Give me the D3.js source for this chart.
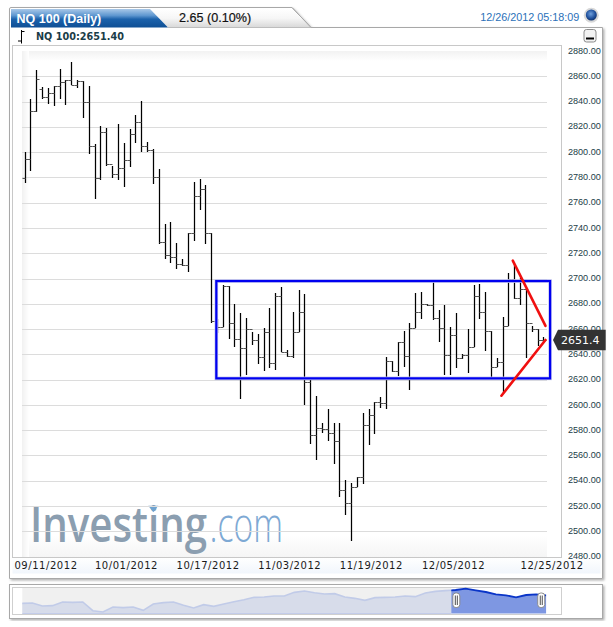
<!DOCTYPE html>
<html>
<head>
<meta charset="utf-8">
<script src="https://cdn.jsdelivr.net/npm/d3@7"></script>
<style>
html,body{margin:0;padding:0;background:#fff}
svg{display:block}
text{font-family:"Liberation Sans",Arial,sans-serif}
</style>
</head>
<body>
<svg id="c" width="613" height="627"></svg>
<script>
const opens=[2779.3,2794.3,2832.5,2850,2843.4,2846.4,2852.3,2855.3,2857.1,2853.1,2856.3,2839.7,2805.1,2779.8,2815.7,2790.6,2783,2787.7,2793.8,2814.1,2823.6,2804.9,2801.7,2780.6,2728.7,2718.6,2717.3,2711.7,2710.5,2736.3,2765.3,2770.6,2735.8,2666,2661.7,2694.4,2665.1,2652.4,2645.3,2659.8,2651.2,2638.2,2657.5,2633,2686.2,2641.9,2639,2657.5,2673.5,2617.8,2576.5,2581.8,2580.8,2578,2571.3,2532.7,2522.7,2535.3,2543,2583.9,2591.8,2602.1,2601.5,2635,2626.9,2649.6,2638.7,2660.5,2673.3,2679.6,2679.3,2669,2660.6,2639.5,2655.3,2636.8,2639.5,2646.1,2686.2,2673.3,2658.5,2630.3,2634.2,2662.7,2699.9,2684.4,2691.5,2665.1,2660.1,2651.4];
const highs=[2799.9,2841.8,2865,2851.3,2850.5,2852.3,2866,2857.1,2871.3,2856.8,2856.3,2852.3,2806.4,2820.7,2818.9,2789.3,2822,2807,2818.1,2829.1,2840.5,2807.8,2802.2,2786.4,2743.2,2745,2727.9,2715.5,2736.3,2776.4,2778.8,2774,2736.4,2667.8,2694.9,2694.1,2679.9,2673,2669,2658,2656.4,2660.6,2676.5,2688.3,2693.6,2643.5,2673.3,2691,2687.5,2622.4,2607.1,2585.5,2597.1,2585.5,2585.5,2540.4,2538.5,2543,2593.9,2596.6,2602.1,2606.1,2638.2,2634.8,2650,2658.1,2665.2,2688.3,2689.1,2679.9,2697.5,2675.1,2679.1,2661.7,2672.5,2640.3,2660.1,2694.9,2695.4,2689.6,2658.5,2636.9,2669.3,2704.2,2711.5,2700.4,2691.7,2662.5,2660.1,2653.5];
const lows=[2775.8,2785.3,2832,2842.3,2838.1,2836.5,2842.3,2837,2853.1,2851,2826.8,2798.5,2762.7,2778,2789.3,2779.8,2778,2772.7,2788,2807.5,2799.9,2799.9,2774.6,2727.1,2715.2,2712.1,2707.8,2709.9,2705.2,2730,2754,2727.3,2664.8,2657.2,2661.7,2652.2,2646.1,2604.5,2623.7,2647.7,2632.4,2626.9,2629.5,2627.6,2641.9,2638.2,2636.9,2657.5,2599.6,2569.1,2556.4,2577.6,2571.7,2553.1,2527,2513.2,2492.1,2535.3,2537.7,2568.1,2577.3,2597.8,2596.8,2626.3,2623.1,2630,2611.8,2660.6,2667.8,2678.5,2667.2,2650,2623.3,2623.3,2629.2,2636.1,2625.5,2646.1,2667.8,2642.7,2620.5,2630.3,2609.2,2662.7,2683.8,2679.1,2636.9,2657.7,2646.6,2650];
const closes=[2794.3,2832.5,2857.6,2843.4,2846.4,2852.3,2855.3,2857.1,2853.1,2856.3,2839.7,2805.1,2779.8,2815.7,2790.6,2783,2787.7,2793.8,2814.1,2823.6,2804.9,2801.7,2780.6,2728.7,2718.6,2717.3,2711.7,2710.5,2736.3,2765.3,2770.6,2735.8,2666,2661.7,2694.4,2665.1,2652.4,2645.3,2659.8,2651.2,2638.2,2657.5,2633,2686.2,2641.9,2639,2657.5,2673.5,2617.8,2576.5,2581.8,2580.8,2578,2571.3,2532.7,2522.7,2535.3,2543,2583.9,2591.8,2602.1,2601.5,2635,2626.9,2649.6,2638.7,2660.5,2673.3,2679.6,2679.3,2669,2660.6,2639.5,2655.3,2636.8,2639.5,2646.1,2686.2,2673.3,2658.5,2630.3,2634.2,2662.7,2699.9,2684.4,2691.5,2665.1,2660.1,2651.4,2651.4];
const yTicks=[2880,2860,2840,2820,2800,2780,2760,2740,2720,2700,2680,2660,2640,2620,2600,2580,2560,2540,2520,2500,2480];
const xTickBars=[3.5,17.3,31.3,45.3,59.3,73.4,90.3];
const xTickLabels=["09/11/2012","10/01/2012","10/17/2012","11/03/2012","11/19/2012","12/05/2012","12/25/2012"];
const overview=[2358.7,2370.4,2265.4,2277,2405.4,2393.7,2405.4,2102,2055.4,2230.4,2207,2230.4,2113.7,2335.4,2382,2405.4,2288.7,2195.4,2312,2253.7,2335.4,2417,2487,2568.7,2580.4,2615.4,2615.4,2743.7,2790.4,2732,2685.4,2697,2580.4,2533.7,2463.7,2557,2568.7,2580.4,2615.4,2592,2720.4,2778.7,2802,2825.4,2872,2813.7,2755.4,2673.7,2638.7,2568.7,2650,2673.7,2638.7];
const lastPrice=2651.4;

const svg=d3.select("#c");
const defs=svg.append("defs");
function grad(id,stops,horizontal){
  const g=defs.append("linearGradient").attr("id",id).attr("x1",0).attr("y1",0)
    .attr("x2",horizontal?1:0).attr("y2",horizontal?0:1);
  stops.forEach(s=>g.append("stop").attr("offset",s[0]).attr("stop-color",s[1]));
}
grad("tabBlue",[[0,"#a8c8e8"],[0.35,"#5f97d0"],[0.55,"#1c62ab"],[1,"#0f4f95"]]);
grad("tabGrey",[[0,"#ffffff"],[0.5,"#f6f6f6"],[1,"#d8d8d8"]]);
grad("fadeL",[[0,"#f1f1f1"],[1,"#ffffff"]],true);
grad("fadeT",[[0,"#f2f2f2"],[1,"#ffffff"]]);
grad("fadeB",[[0,"#ffffff"],[1,"#f5f5f5"]]);
grad("strip",[[0,"#ffffff"],[1,"#f1f6fc"]]);
const ball=defs.append("radialGradient").attr("id","ball").attr("cx",0.45).attr("cy",0.4).attr("r",0.6);
ball.append("stop").attr("offset",0).attr("stop-color","#6f9fdc");
ball.append("stop").attr("offset",0.7).attr("stop-color","#1f4f9a");
ball.append("stop").attr("offset",1).attr("stop-color","#12336b");
defs.append("filter").attr("id","shadow").attr("x","-5%").attr("y","-5%").attr("width","110%").attr("height","110%")
  .append("feDropShadow").attr("dx",1.5).attr("dy",1.5).attr("stdDeviation",1.2).attr("flood-color","#000").attr("flood-opacity",0.3);

const x=d3.scaleLinear().domain([0,89]).range([25.1,543.97]);
const y=d3.scaleLinear().domain([2860,2500]).range([76.3,531.3]);
const px=i=>Math.floor(x(i))+0.5;
const py=v=>Math.round(y(v))+0.5;

// panels
svg.append("path").attr("d","M9.5,578.5V9a1.5,1.5 0 0 1 1.5,-1.5H292L311,27.5H602.5V578.5Z")
  .attr("fill","#fff").attr("stroke","#a8a8a8").attr("filter","url(#shadow)");
svg.append("path").attr("d","M168,27.5L150,9H292L310.5,27.5Z").attr("fill","url(#tabGrey)");
svg.append("path").attr("d","M11,9H150L168,27.5H11Z").attr("fill","url(#tabBlue)");
svg.append("line").attr("x1",168).attr("x2",311).attr("y1",27.5).attr("y2",27.5).attr("stroke","#bdbdbd");
svg.append("path").attr("d","M292,7.5L311,27.5").attr("stroke","#a8a8a8").attr("fill","none");

svg.append("rect").attr("x",12.5).attr("y",557.5).attr("width",588).attr("height",16).attr("fill","url(#strip)");
svg.append("rect").attr("x",12.5).attr("y",45.5).attr("width",549).attr("height",512).attr("fill","#fff").attr("stroke","#c8c8c8");
svg.append("rect").attr("x",22).attr("y",51).attr("width",525).attr("height",10).attr("fill","url(#fadeT)");
svg.append("rect").attr("x",22).attr("y",535).attr("width",525).attr("height",22).attr("fill","url(#fadeB)");
svg.append("rect").attr("x",22).attr("y",51).attr("width",7).attr("height",506).attr("fill","url(#fadeL)");

// watermark: each word is squeezed to its measured width by a transform
const logo=svg.append("g");
function logoWord(txt,left,width,weight,colour){
  const t=logo.append("text").style("font-family","'Open Sans'").style("font-weight",weight).style("font-size","48px").attr("fill",colour).text(txt);
  const natural=t.node().getComputedTextLength();
  t.attr("transform",`translate(${left},541.7) scale(${width/natural},1)`);
}
logoWord("Investing",30,177,600,"#8b9eb0");
logoWord(".com",209.5,73.5,300,"#7ea9d4");
logo.append("path").attr("d","M148.3,505.7H158.3L153.3,512.3Z").attr("fill","#6fa3d0");

// grid through the library's axis
const grid=svg.append("g").attr("transform","translate(22,0)")
  .call(d3.axisRight(y).tickValues(yTicks.slice(1,-1)).tickSize(525).tickFormat(""));
grid.select(".domain").remove();
grid.selectAll("line").attr("stroke","#dcdcdc").attr("y1",0).attr("y2",0).attr("transform",d=>`translate(0,${Math.round(y(d))+0.5-y(d)-0.5})`);

// y axis labels
const ya=svg.append("g").attr("transform","translate(600.8,0)")
  .call(d3.axisLeft(y).tickValues(yTicks).tickSize(0).tickPadding(0).tickFormat(d3.format(".2f")));
ya.select(".domain").remove();
ya.selectAll("text").style("font-family","'Liberation Sans'").style("font-size","9.1px").attr("fill","#1b3d48").attr("dy","0.3em")
  .attr("transform","translate(0,-0.6)");

// x axis labels
const xa=svg.append("g").attr("transform","translate(0,561.5)")
  .call(d3.axisBottom(x).tickValues(xTickBars).tickSize(0).tickPadding(0).tickFormat((d,i)=>xTickLabels[i]));
xa.select(".domain").remove();
xa.selectAll("text").style("font-family","'DejaVu Sans'").style("font-size","10px").style("letter-spacing","0.55px").attr("fill","#1a1a1a");

// OHLC bars
const bars=svg.append("g").selectAll("g").data(closes.map((c,i)=>i)).join("g");
bars.append("line").attr("x1",px).attr("x2",px).attr("y1",i=>Math.round(y(highs[i]))).attr("y2",i=>Math.round(y(lows[i])))
  .attr("stroke","#000").attr("stroke-width",1.25);
bars.append("line").attr("x1",i=>px(i)-3).attr("x2",px).attr("y1",i=>py(opens[i])).attr("y2",i=>py(opens[i]))
  .attr("stroke","#555");
bars.append("line").attr("x1",px).attr("x2",i=>px(i)+3).attr("y1",i=>py(closes[i])).attr("y2",i=>py(closes[i]))
  .attr("stroke","#555");

// drawn annotations
const boxBars=[32.8,90.05], boxLevels=[2698,2621];
svg.append("rect").attr("x",x(boxBars[0])).attr("y",y(boxLevels[0]))
  .attr("width",x(boxBars[1])-x(boxBars[0])).attr("height",y(boxLevels[1])-y(boxLevels[0]))
  .attr("fill","none").attr("stroke","#c4c6ee").attr("stroke-width",3.6);
svg.append("rect").attr("x",x(boxBars[0])).attr("y",y(boxLevels[0]))
  .attr("width",x(boxBars[1])-x(boxBars[0])).attr("height",y(boxLevels[1])-y(boxLevels[0]))
  .attr("fill","none").attr("stroke","#0000f0").attr("stroke-width",2.2);
const redLines=[[[83.65,2714.1],[89.26,2662.5]],[[81.7,2607.3],[89.26,2651.4]]];
svg.append("g").selectAll("line").data(redLines).join("line")
  .attr("x1",d=>x(d[0][0])).attr("y1",d=>y(d[0][1])).attr("x2",d=>x(d[1][0])).attr("y2",d=>y(d[1][1]))
  .attr("stroke","#f01010").attr("stroke-width",2.6).attr("stroke-linecap","round");

// price tag
const tagY=y(lastPrice);
svg.append("path").attr("d",`M553,${tagY}L558,${tagY-10.3}H605.7V${tagY+10.3}H558Z`).attr("fill","#333");
svg.append("text").attr("x",561).attr("y",tagY+4).style("font-family","'DejaVu Sans'").style("font-size","11px")
  .attr("fill","#fff").text(lastPrice.toFixed(1));

// header text
svg.append("text").attr("x",16.5).attr("y",22.5).style("font-size","12.5px").style("font-weight",700).attr("fill","#fff").text("NQ 100 (Daily)");
svg.append("text").attr("x",179).attr("y",22).style("font-size","12.6px").attr("fill","#111").attr("stroke","#111").attr("stroke-width",0.2).text("2.65 (0.10%)");
svg.append("text").attr("x",480.3).attr("y",21).style("font-size","10.8px").attr("fill","#2a70b8").text("12/26/2012 05:18:09");
svg.append("circle").attr("cx",591.3).attr("cy",15.3).attr("r",7.5).attr("fill","#d8d8d8");
svg.append("circle").attr("cx",591.3).attr("cy",15).attr("r",5.5).attr("fill","url(#ball)");
svg.append("text").attr("x",36).attr("y",40).style("font-family","'DejaVu Sans'").style("font-weight",700).style("font-size","9.7px")
  .attr("fill","#1a3c47").text("NQ 100:"+d3.format(".2f")(2651.40));
svg.append("path").attr("d","M21.5,30V43.5M18,41H21.5M21.5,31.5H24.5").attr("stroke","#000").attr("fill","none");
svg.append("rect").attr("x",584).attr("y",29.5).attr("width",12).attr("height",12.5).attr("rx",2.5).attr("fill","#f2f2f2").attr("stroke","#8c8c8c");
svg.append("rect").attr("x",586).attr("y",37.5).attr("width",8).attr("height",2).attr("fill","#000");

// navigator
svg.append("rect").attr("x",9.5).attr("y",584.5).attr("width",593).attr("height",34).attr("fill","#fff").attr("stroke","#a8a8a8").attr("filter","url(#shadow)");
svg.append("rect").attr("x",12.5).attr("y",587.5).attr("width",549).attr("height",27).attr("fill","#fff").attr("stroke","#cfcfcf");
const navX=d3.scaleLinear().domain([0,overview.length-1]).range([22.3,546.3]);
const navY=d3.scaleLinear().domain([2003,2871]).range([613.5,588.7]);
const selFrom=42.57, selTo=overview.length-1;
svg.append("rect").attr("x",22.3).attr("y",588).attr("width",navX(selFrom)-22.3).attr("height",26).attr("fill","#f0f0f0");
const navArea=d3.area().x((d,i)=>navX(i)).y0(navY(2003)).y1(d=>navY(d));
const navLine=d3.line().x((d,i)=>navX(i)).y(d=>navY(d));
defs.append("clipPath").attr("id","clipA").append("rect").attr("x",22).attr("y",580).attr("width",navX(selFrom)-22).attr("height",40);
defs.append("clipPath").attr("id","clipB").append("rect").attr("x",navX(selFrom)).attr("y",580).attr("width",navX(selTo)-navX(selFrom)).attr("height",40);
svg.append("path").attr("d",navArea(overview)).attr("fill","#d7dcea").attr("clip-path","url(#clipA)");
svg.append("path").attr("d",navLine(overview)).attr("fill","none").attr("stroke","#c1cbe8").attr("stroke-width",1.6).attr("clip-path","url(#clipA)");
svg.append("path").attr("d",navArea(overview)).attr("fill","#7e97e2").attr("clip-path","url(#clipB)");
svg.append("path").attr("d",navLine(overview)).attr("fill","none").attr("stroke","#0a35c8").attr("stroke-width",1.8).attr("clip-path","url(#clipB)");
svg.append("line").attr("x1",22.3).attr("x2",navX(selFrom)).attr("y1",613.5).attr("y2",613.5).attr("stroke","#c4cdea");
const handles=svg.append("g").selectAll("g").data([selFrom+0.5,selTo-0.5]).join("g")
  .attr("transform",d=>`translate(${navX(d)},0)`);
handles.append("rect").attr("x",-3.5).attr("y",593).attr("width",7).attr("height",14.5).attr("rx",3).attr("fill","#fff").attr("stroke","#8a8a8a");
handles.append("path").attr("d","M-1,595.5V605M1,595.5V605").attr("stroke","#222").attr("stroke-width",0.8);
</script>
</body>
</html>
